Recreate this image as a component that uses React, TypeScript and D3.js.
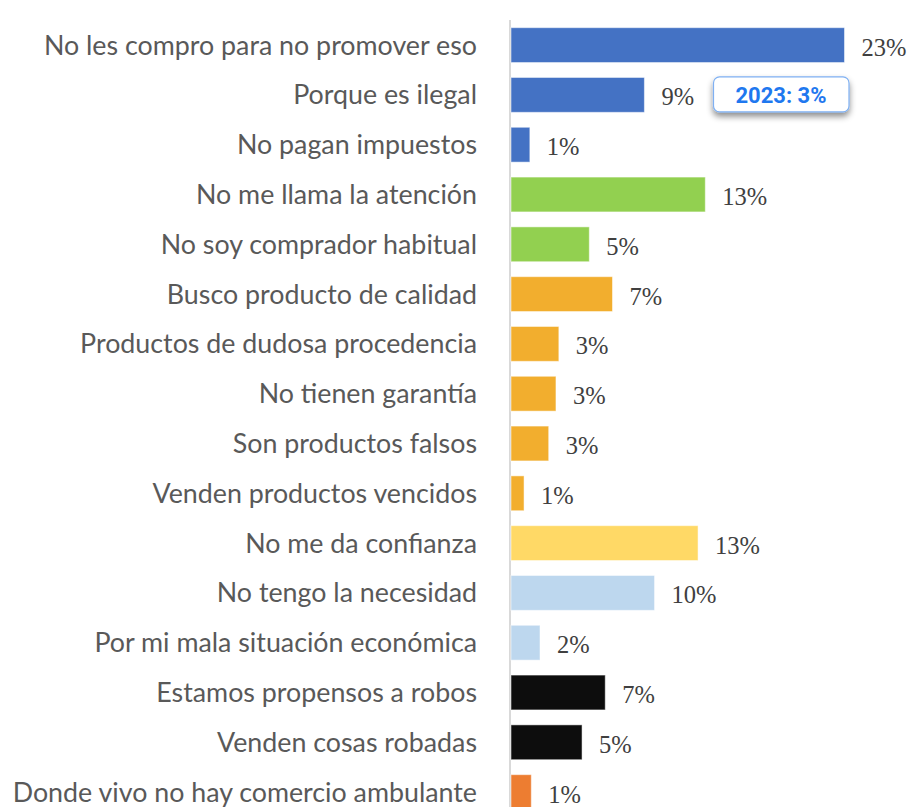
import React from "react";
import * as d3 from "d3";

const categories = [
  "No les compro para no promover eso",
  "Porque es ilegal",
  "No pagan impuestos",
  "No me llama la atención",
  "No soy comprador habitual",
  "Busco producto de calidad",
  "Productos de dudosa procedencia",
  "No tienen garantía",
  "Son productos falsos",
  "Venden productos vencidos",
  "No me da confianza",
  "No tengo la necesidad",
  "Por mi mala situación económica",
  "Estamos propensos a robos",
  "Venden cosas robadas",
  "Donde vivo no hay comercio ambulante",
];

const values = [23.0, 9.2, 1.3, 13.4, 5.4, 7.0, 3.3, 3.1, 2.6, 0.9, 12.9, 9.9, 2.0, 6.5, 4.9, 1.4];

const valueLabels = ["23%", "9%", "1%", "13%", "5%", "7%", "3%", "3%", "3%", "1%", "13%", "10%", "2%", "7%", "5%", "1%"];

const groups = [
  "legal", "legal", "legal",
  "interest", "interest",
  "quality", "quality", "quality", "quality", "quality",
  "trust",
  "need", "need",
  "safety", "safety",
  "access",
];

const groupColors: Record<string, string> = {
  legal: "#4472c4",
  interest: "#92d050",
  quality: "#f2ae2e",
  trust: "#ffd966",
  need: "#bdd7ee",
  safety: "#0d0d0d",
  access: "#ed7d31",
};

const annotationCategory = "Porque es ilegal";
const annotationText = "2023: 3%";

export default function App() {
  const W = 909;
  const H = 807;
  const x = d3.scaleLinear().domain([0, 23]).range([511, 844.5]);
  const y = d3
    .scaleBand<string>()
    .domain(categories)
    .range([20.2, 817])
    .paddingInner(0.3)
    .paddingOuter(0.15);
  const bw = y.bandwidth();
  const annY = (y(annotationCategory) as number) + bw / 2;

  return (
    <svg
      width={W}
      height={H}
      style={{ position: "absolute", left: 0, top: 0, background: "#fff" }}
    >
      <defs>
        <filter id="shadow" x="-20%" y="-30%" width="140%" height="180%">
          <feDropShadow dx="0" dy="4" stdDeviation="3" floodColor="#000" floodOpacity="0.45" />
        </filter>
      </defs>
      <line x1={510} x2={510} y1={20} y2={H} stroke="#d9d9d9" strokeWidth={2} />
      {categories.map((c, i) => {
        const yy = y(c) as number;
        return (
          <g key={c}>
            <rect
              x={x(0)}
              y={yy}
              width={x(values[i]) - x(0)}
              height={bw}
              fill={groupColors[groups[i]]}
              stroke="#ffffff"
              strokeOpacity={0.5}
              strokeWidth={1}
            />
            <text
              x={477}
              y={yy + bw / 2 + 9.4}
              textAnchor="end"
              fontFamily="Lato, 'Noto Sans', sans-serif"
              fontSize={26.8}
              fill="#595959"
            >
              {c}
            </text>
            <text
              x={x(values[i]) + 17}
              y={yy + bw / 2 + 10.5}
              fontFamily="'Liberation Serif', 'DejaVu Serif', serif"
              fontSize={24.5}
              fill="#404040"
            >
              {valueLabels[i]}
            </text>
          </g>
        );
      })}
      <g>
        <rect
          x={713.5}
          y={annY - 18}
          width={135.5}
          height={35}
          rx={6}
          ry={6}
          fill="#ffffff"
          stroke="#7fb0f2"
          strokeWidth={1.2}
          filter="url(#shadow)"
        />
        <text
          x={781}
          y={annY + 7.8}
          textAnchor="middle"
          fontFamily="Roboto, 'Open Sans', sans-serif"
          fontWeight={700}
          fontSize={22}
          fill="#1f78ef"
        >
          {annotationText}
        </text>
      </g>
    </svg>
  );
}
